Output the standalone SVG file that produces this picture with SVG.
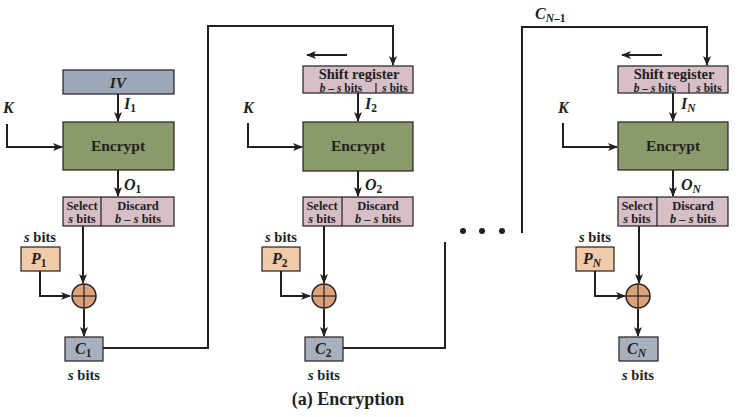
<svg xmlns="http://www.w3.org/2000/svg" width="749" height="417" viewBox="0 0 749 417">
<style>
text{font-family:"Liberation Serif","Times New Roman",serif;font-weight:bold;fill:#231f20}
.i{font-style:italic}
.ln{stroke:#231f20;stroke-width:2;fill:none}
.bx{stroke:#231f20;stroke-width:1.2}
.iv{fill:#9ea8b6}
.enc{fill:#8b9a6b}
.sr{fill:#d6bfc7}
.p{fill:#f1caa9}
.c{fill:#a9b0bd}
.x{fill:#dda27b;stroke:#231f20;stroke-width:1.5}
.t14{font-size:15.5px;text-anchor:middle}
.t15{font-size:14.5px;text-anchor:middle}
.t13{font-size:14.5px;text-anchor:middle}
.t11{font-size:12.5px;text-anchor:middle}
.t12{font-size:11.5px;text-anchor:middle}
.lb{font-size:16px}
.sub{font-size:11.5px}
</style>
<defs>
<marker id="ah" markerWidth="10" markerHeight="8" refX="9" refY="4" orient="auto" markerUnits="userSpaceOnUse">
<path d="M0,0 L10,4 L0,8 L2.5,4 Z" fill="#231f20"/>
</marker>
</defs>

<g id="connectors">
<line class="ln" x1="118" y1="94" x2="118" y2="121" marker-end="url(#ah)"/>
<polyline class="ln" points="7,124 7,147 62,147" marker-end="url(#ah)"/>
<line class="ln" x1="118" y1="170" x2="118" y2="196" marker-end="url(#ah)"/>
<line class="ln" x1="83" y1="226" x2="83" y2="283" marker-end="url(#ah)"/>
<polyline class="ln" points="40,271 40,296 70,296" marker-end="url(#ah)"/>
<line class="ln" x1="84" y1="309" x2="84" y2="336" marker-end="url(#ah)"/>
<polyline class="ln" points="103,348 208,348 208,26 393,26 393,65" marker-end="url(#ah)"/>
<line class="ln" x1="347" y1="55" x2="307" y2="55" marker-end="url(#ah)"/>
<line class="ln" x1="358" y1="93" x2="358" y2="121" marker-end="url(#ah)"/>
<polyline class="ln" points="248,123 248,147 302,147" marker-end="url(#ah)"/>
<line class="ln" x1="358" y1="171" x2="358" y2="196" marker-end="url(#ah)"/>
<line class="ln" x1="324" y1="226" x2="324" y2="283" marker-end="url(#ah)"/>
<polyline class="ln" points="281,271 281,296 310,296" marker-end="url(#ah)"/>
<line class="ln" x1="324" y1="309" x2="324" y2="336" marker-end="url(#ah)"/>
<polyline class="ln" points="343,348 445,348 445,242"/>
<polyline class="ln" points="522,233 522,27 707,27 707,65" marker-end="url(#ah)"/>
<line class="ln" x1="662" y1="55" x2="622" y2="55" marker-end="url(#ah)"/>
<line class="ln" x1="673" y1="93" x2="673" y2="121" marker-end="url(#ah)"/>
<polyline class="ln" points="563,123 563,147 617,147" marker-end="url(#ah)"/>
<line class="ln" x1="673" y1="170" x2="673" y2="196" marker-end="url(#ah)"/>
<line class="ln" x1="639" y1="226" x2="639" y2="283" marker-end="url(#ah)"/>
<polyline class="ln" points="595,271 595,296 625,296" marker-end="url(#ah)"/>
<line class="ln" x1="638" y1="309" x2="638" y2="336" marker-end="url(#ah)"/>
</g>

<!-- Stage 1 nodes -->
<g id="iv1"><rect class="bx iv" x="63" y="70" width="111" height="24"/><text class="t14 i" x="118" y="88">IV</text></g>
<g id="i1"><text class="lb i" x="124" y="109">I<tspan class="sub" dy="3" font-style="normal">1</tspan></text></g>
<g id="k1"><text class="lb i" x="3" y="113">K</text></g>
<g id="enc1"><rect class="bx enc" x="63" y="122" width="111" height="48"/><text class="t14" x="118" y="151">Encrypt</text></g>
<g id="o1"><text class="lb i" x="124" y="190">O<tspan class="sub" dy="3" font-style="normal">1</tspan></text></g>
<g id="sel1"><rect class="bx sr" x="63" y="197" width="111" height="29"/><line class="bx" x1="101" y1="197" x2="101" y2="226"/>
<text class="t11" x="82" y="210">Select</text><text class="t11" x="82" y="223"><tspan font-style="italic">s</tspan> bits</text>
<text class="t11" x="138" y="210">Discard</text><text class="t11" x="138" y="223"><tspan font-style="italic">b</tspan> – <tspan font-style="italic">s</tspan> bits</text></g>
<g id="sb1"><text class="t13" x="40" y="242"><tspan font-style="italic">s</tspan> bits</text></g>
<g id="p1"><rect class="bx p" x="21" y="247" width="39" height="24"/><text class="lb i" x="31" y="264">P<tspan class="sub" dy="3" font-style="normal">1</tspan></text></g>
<g id="xor1"><circle class="x" cx="84" cy="296" r="12"/><line class="bx" x1="72" y1="296" x2="96" y2="296" stroke-width="1.8"/><line class="bx" x1="84" y1="284" x2="84" y2="308" stroke-width="1.8"/></g>
<g id="c1"><rect class="bx c" x="65" y="337" width="38" height="24"/><text class="lb i" x="75" y="354">C<tspan class="sub" dy="3" font-style="normal">1</tspan></text></g>
<g id="sb1b"><text class="t13" x="84" y="380"><tspan font-style="italic">s</tspan> bits</text></g>

<!-- Stage 2 nodes -->
<g id="sr2"><rect class="bx sr" x="303" y="66" width="110" height="27"/><line class="bx" x1="376" y1="83" x2="376" y2="93"/>
<text class="t15" x="359" y="78.5">Shift register</text>
<text class="t12" x="341" y="91.5"><tspan font-style="italic">b</tspan> – <tspan font-style="italic">s</tspan> bits</text>
<text class="t12" x="395" y="91.5"><tspan font-style="italic">s</tspan> bits</text></g>
<g id="i2"><text class="lb i" x="365" y="109">I<tspan class="sub" dy="3" font-style="normal">2</tspan></text></g>
<g id="k2"><text class="lb i" x="243" y="113">K</text></g>
<g id="enc2"><rect class="bx enc" x="303" y="122" width="110" height="49"/><text class="t14" x="358" y="151">Encrypt</text></g>
<g id="o2"><text class="lb i" x="365" y="190">O<tspan class="sub" dy="3" font-style="normal">2</tspan></text></g>
<g id="sel2"><rect class="bx sr" x="303" y="197" width="110" height="29"/><line class="bx" x1="342" y1="197" x2="342" y2="226"/>
<text class="t11" x="322" y="210">Select</text><text class="t11" x="322" y="223"><tspan font-style="italic">s</tspan> bits</text>
<text class="t11" x="378" y="210">Discard</text><text class="t11" x="378" y="223"><tspan font-style="italic">b</tspan> – <tspan font-style="italic">s</tspan> bits</text></g>
<g id="sb2"><text class="t13" x="281" y="242"><tspan font-style="italic">s</tspan> bits</text></g>
<g id="p2"><rect class="bx p" x="262" y="247" width="38" height="24"/><text class="lb i" x="272" y="264">P<tspan class="sub" dy="3" font-style="normal">2</tspan></text></g>
<g id="xor2"><circle class="x" cx="324" cy="296" r="12"/><line class="bx" x1="312" y1="296" x2="336" y2="296" stroke-width="1.8"/><line class="bx" x1="324" y1="284" x2="324" y2="308" stroke-width="1.8"/></g>
<g id="c2"><rect class="bx c" x="305" y="337" width="38" height="24"/><text class="lb i" x="315" y="354">C<tspan class="sub" dy="3" font-style="normal">2</tspan></text></g>
<g id="sb2b"><text class="t13" x="324" y="380"><tspan font-style="italic">s</tspan> bits</text></g>

<g id="dots"><circle cx="463" cy="231" r="3" fill="#231f20"/><circle cx="482" cy="231" r="3" fill="#231f20"/><circle cx="502" cy="231" r="3" fill="#231f20"/></g>
<g id="cn1"><text class="lb i" x="535" y="19">C<tspan class="sub" dy="3">N</tspan><tspan class="sub" font-style="normal">–1</tspan></text></g>

<!-- Stage N nodes -->
<g id="srN"><rect class="bx sr" x="618" y="66" width="110" height="27"/><line class="bx" x1="689" y1="83" x2="689" y2="93"/>
<text class="t15" x="674" y="78.5">Shift register</text>
<text class="t12" x="655" y="91.5"><tspan font-style="italic">b</tspan> – <tspan font-style="italic">s</tspan> bits</text>
<text class="t12" x="709" y="91.5"><tspan font-style="italic">s</tspan> bits</text></g>
<g id="iN"><text class="lb i" x="681" y="109">I<tspan class="sub" dy="3">N</tspan></text></g>
<g id="kN"><text class="lb i" x="558" y="113">K</text></g>
<g id="encN"><rect class="bx enc" x="618" y="122" width="110" height="48"/><text class="t14" x="673" y="151">Encrypt</text></g>
<g id="oN"><text class="lb i" x="681" y="190">O<tspan class="sub" dy="3">N</tspan></text></g>
<g id="selN"><rect class="bx sr" x="618" y="197" width="110" height="29"/><line class="bx" x1="657" y1="197" x2="657" y2="226"/>
<text class="t11" x="637" y="210">Select</text><text class="t11" x="637" y="223"><tspan font-style="italic">s</tspan> bits</text>
<text class="t11" x="693" y="210">Discard</text><text class="t11" x="693" y="223"><tspan font-style="italic">b</tspan> – <tspan font-style="italic">s</tspan> bits</text></g>
<g id="sbN"><text class="t13" x="595" y="242"><tspan font-style="italic">s</tspan> bits</text></g>
<g id="pN"><rect class="bx p" x="576" y="247" width="38" height="24"/><text class="lb i" x="583" y="264">P<tspan class="sub" dy="3">N</tspan></text></g>
<g id="xorN"><circle class="x" cx="638" cy="296" r="12"/><line class="bx" x1="626" y1="296" x2="650" y2="296" stroke-width="1.8"/><line class="bx" x1="638" y1="284" x2="638" y2="308" stroke-width="1.8"/></g>
<g id="cN"><rect class="bx c" x="619" y="337" width="39" height="24"/><text class="lb i" x="627" y="354">C<tspan class="sub" dy="3">N</tspan></text></g>
<g id="sbNb"><text class="t13" x="638" y="380"><tspan font-style="italic">s</tspan> bits</text></g>

<g id="caption"><text x="348" y="405" font-size="18" text-anchor="middle">(a) Encryption</text></g>
</svg>
